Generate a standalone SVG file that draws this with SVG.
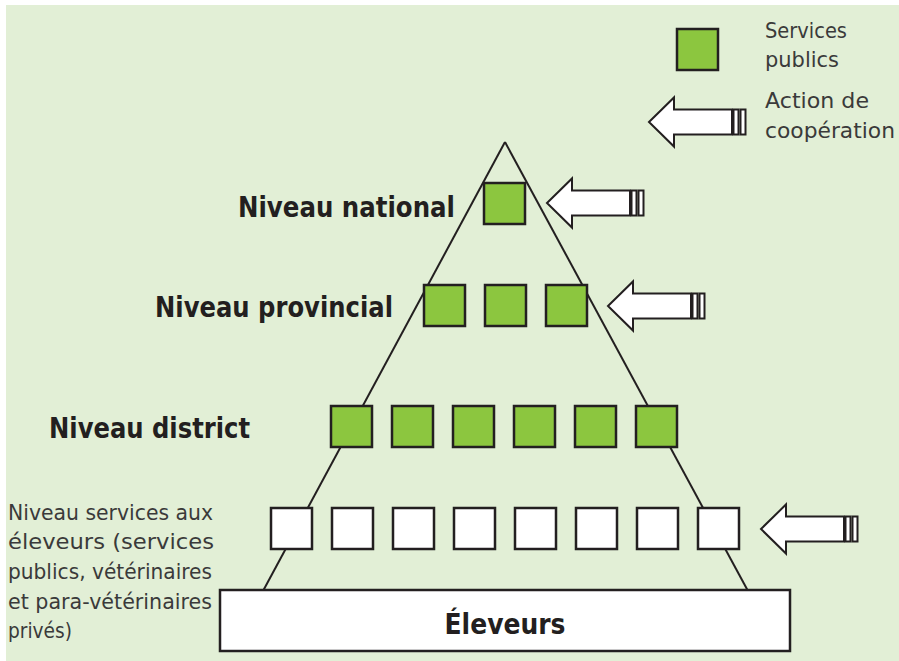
<svg xmlns="http://www.w3.org/2000/svg" width="899" height="661" viewBox="0 0 899 661">
  <style>
    .bg { fill: #e2efd6; }
    .line { stroke: #231f20; stroke-width: 2; fill: none; }
    .green { fill: #8cc63f; stroke: #231f20; stroke-width: 2.5; }
    .white { fill: #ffffff; stroke: #231f20; stroke-width: 2.5; }
    .arrow { fill: #ffffff; stroke: #231f20; stroke-width: 2; stroke-linejoin: miter; }
    .bold { font-family: "DejaVu Sans", "Liberation Sans", sans-serif; font-weight: bold; font-size: 29px; fill: #231f20; }
    .reg { font-family: "DejaVu Sans", "Liberation Sans", sans-serif; font-size: 21px; fill: #3a3a3a; }
  </style>
  <defs>
    <g id="coop">
      <path class="arrow" d="M0,0 L25,-24.5 L25,-12.5 L83,-12.5 L83,12.5 L25,12.5 L25,24.5 Z"/>
      <rect class="arrow" x="84.5" y="-12.5" width="5" height="25"/>
      <rect class="arrow" x="91.5" y="-12.5" width="5" height="25"/>
    </g>
  </defs>
  <rect width="899" height="661" fill="#ffffff"/>
  <rect class="bg" x="6" y="5" width="893" height="656"/>

  <g id="connectors">
    <line class="line" x1="505" y1="142" x2="263" y2="591"/>
    <line class="line" x1="505" y1="142" x2="748" y2="591"/>
  </g>

  <g id="legend">
    <rect class="green" x="677" y="29" width="41" height="41"/>
    <text class="reg" x="765" y="38" textLength="82" lengthAdjust="spacingAndGlyphs">Services</text>
    <text class="reg" x="765" y="67" textLength="74" lengthAdjust="spacingAndGlyphs">publics</text>
    <use href="#coop" transform="translate(649,122)"/>
    <text class="reg" x="765" y="108" textLength="104" lengthAdjust="spacingAndGlyphs">Action de</text>
    <text class="reg" x="765" y="138" textLength="130" lengthAdjust="spacingAndGlyphs">coopération</text>
  </g>

  <g id="national">
    <text class="bold" x="238" y="217" textLength="217" lengthAdjust="spacingAndGlyphs">Niveau national</text>
    <rect class="green" x="484" y="183" width="41" height="41"/>
    <use href="#coop" transform="translate(547,203)"/>
  </g>

  <g id="provincial">
    <text class="bold" x="155" y="317" textLength="238" lengthAdjust="spacingAndGlyphs">Niveau provincial</text>
    <rect class="green" x="424" y="285" width="41" height="41"/>
    <rect class="green" x="485" y="285" width="41" height="41"/>
    <rect class="green" x="546" y="285" width="41" height="41"/>
    <use href="#coop" transform="translate(608,306)"/>
  </g>

  <g id="district">
    <text class="bold" x="49" y="438" textLength="201" lengthAdjust="spacingAndGlyphs">Niveau district</text>
    <rect class="green" x="331" y="406" width="41" height="41"/>
    <rect class="green" x="392" y="406" width="41" height="41"/>
    <rect class="green" x="453" y="406" width="41" height="41"/>
    <rect class="green" x="514" y="406" width="41" height="41"/>
    <rect class="green" x="575" y="406" width="41" height="41"/>
    <rect class="green" x="636" y="406" width="41" height="41"/>
  </g>

  <g id="services-eleveurs">
    <text class="reg" x="8" y="520" textLength="205" lengthAdjust="spacingAndGlyphs">Niveau services aux</text>
    <text class="reg" x="8" y="549" textLength="206" lengthAdjust="spacingAndGlyphs">éleveurs (services</text>
    <text class="reg" x="8" y="579" textLength="204" lengthAdjust="spacingAndGlyphs">publics, vétérinaires</text>
    <text class="reg" x="8" y="609" textLength="204" lengthAdjust="spacingAndGlyphs">et para-vétérinaires</text>
    <text class="reg" x="8" y="638" textLength="64" lengthAdjust="spacingAndGlyphs">privés)</text>
    <rect class="white" x="271" y="508" width="41" height="41"/>
    <rect class="white" x="332" y="508" width="41" height="41"/>
    <rect class="white" x="393" y="508" width="41" height="41"/>
    <rect class="white" x="454" y="508" width="41" height="41"/>
    <rect class="white" x="515" y="508" width="41" height="41"/>
    <rect class="white" x="576" y="508" width="41" height="41"/>
    <rect class="white" x="637" y="508" width="41" height="41"/>
    <rect class="white" x="698" y="508" width="41" height="41"/>
    <use href="#coop" transform="translate(761,529)"/>
  </g>

  <g id="eleveurs">
    <rect class="white" x="220" y="590" width="570" height="61"/>
    <text class="bold" x="505" y="634" text-anchor="middle" textLength="121" lengthAdjust="spacingAndGlyphs">Éleveurs</text>
  </g>
</svg>
